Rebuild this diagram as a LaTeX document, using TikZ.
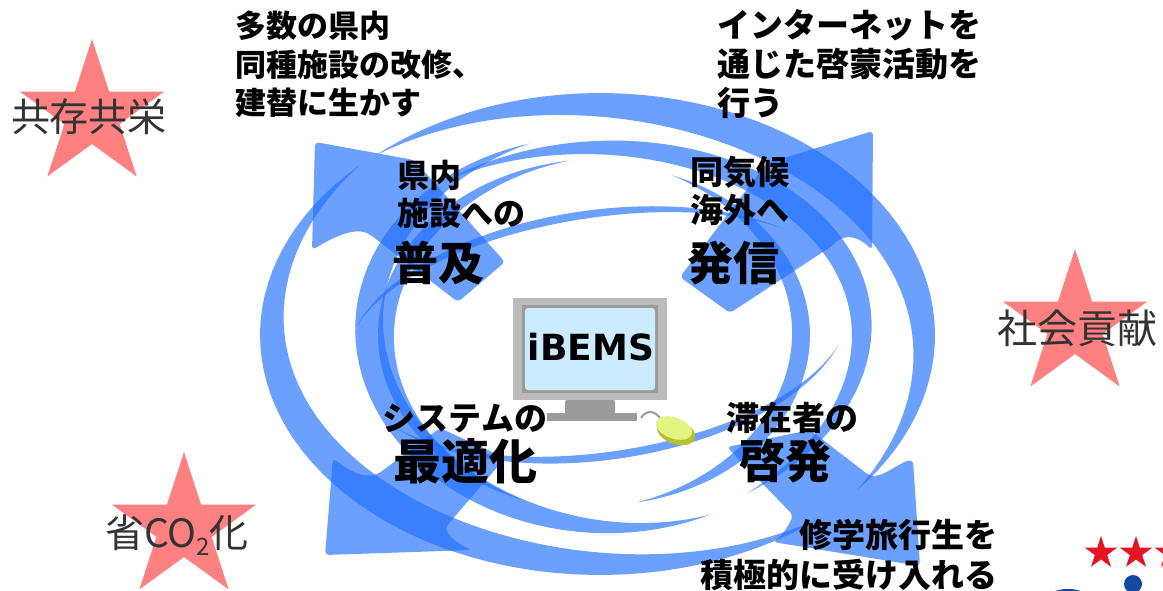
\documentclass[tikz,border=0pt]{standalone}
\usepackage{fontspec}
\newfontfamily\jp{Noto Sans CJK JP}
\newfontfamily\latin{DejaVu Sans}
\usetikzlibrary{positioning,shapes.geometric}

\definecolor{swirlblue}{RGB}{30,110,255}
\definecolor{starpink}{RGB}{255,128,128}
\definecolor{labelgray}{RGB}{51,51,51}
\definecolor{framegray}{RGB}{187,187,187}
\definecolor{rimgray}{RGB}{155,155,155}
\definecolor{screenblue}{RGB}{204,235,255}
\definecolor{mouseyellow}{RGB}{226,244,130}
\definecolor{mouserim}{RGB}{184,192,44}
\definecolor{logored}{RGB}{228,20,36}
\definecolor{logoblue}{RGB}{22,72,160}

% tapered ribbon on an ellipse: [rotation]{rx}{ry}{from}{to}{width}
\newcommand{\swoosh}[6][0]{%
  \fill[swirl, rotate=#1] plot[domain=#4:#5, samples=60, variable=\t]
      ({#2*cos(\t)}, {#3*sin(\t)})
    -- plot[domain=#5:#4, samples=60, variable=\t]
      ({(#2-#6*sin(180/(#5-#4)*(\t-#4)))*cos(\t)},
       {(#3-#6*sin(180/(#5-#4)*(\t-#4)))*sin(\t)})
    -- cycle;}

\begin{document}
\begin{tikzpicture}[x=1pt, y=-1pt,
	swirl/.style = { fill=swirlblue, fill opacity=0.65 },
	blockarrow/.style = { swirl, rounded corners=4pt },
	note/.style = { font=\jp\bfseries\fontsize{31}{38.5}\selectfont,
			inner sep=0, align=left, anchor=north west },
	lead/.style = { font=\jp\bfseries\fontsize{33}{38}\selectfont,
			inner sep=0, align=left },
	keyword/.style = { font=\jp\bfseries\fontsize{46}{50}\selectfont, inner sep=0 },
	bigstar/.style = { star, star points=5, star point ratio=2.618,
			minimum size=152pt, inner sep=0, fill=starpink },
	starword/.style = { font=\jp\fontsize{39}{42}\selectfont,
			text=labelgray, inner sep=0 }]

  \useasboundingbox (0,0) rectangle (1163,591);
  \fill[white] (0,0) rectangle (1163,591);

  % stars
  \node[name=kyozonstar, bigstar] at (92,115) {};
  \node[name=shakaistar, bigstar] at (1075,325) {};
  \node[name=shocostar, bigstar] at (184,528) {};

  % ribbons round the middle
  \begin{scope}[shift={(600,335)}]
    \swoosh{335}{242}{228}{400}{34}
    \swoosh{340}{240}{50}{225}{34}
    \swoosh[4]{272}{194}{238}{420}{24}
    \swoosh[-4]{245}{198}{60}{250}{30}
    \swoosh{210}{170}{290}{440}{18}
    \swoosh{222}{176}{110}{262}{16}
    \swoosh[8]{255}{125}{200}{320}{8}
    \swoosh[8]{250}{125}{20}{150}{8}
  \end{scope}

  % the four arrows
  \fill[blockarrow] (315,142) -- (414,160) -- (505,262) -- (458,302) -- (372,236)
    .. controls (355,226) and (332,238) .. (312,250) -- cycle;
  \fill[blockarrow] (873,131) -- (872,250) .. controls (860,238) and (846,232) .. (832,246)
    -- (730,313) -- (680,277) -- (767,163) -- cycle;
  \fill[blockarrow] (325,555) -- (333,458) .. controls (345,468) and (360,478) .. (378,474)
    -- (440,428) -- (505,458) -- (445,528) .. controls (452,540) and (462,546) .. (472,550)
    -- cycle;
  \fill[blockarrow] (920,566) -- (913,460) .. controls (900,462) and (885,476) .. (870,476)
    -- (810,430) -- (727,447) -- (793,515) .. controls (788,528) and (780,537) .. (773,542)
    -- cycle;

  % monitor and mouse
  \fill[framegray] (513,298) rectangle (667,400);
  \fill[rimgray] (522,305) rectangle (658,393);
  \fill[screenblue, rounded corners=3pt] (525,308) rectangle (655,390);
  \fill[rimgray, rounded corners=2pt] (565,400) rectangle (615,414);
  \fill[rimgray] (547,413) rectangle (637,421);
  \node[name=ibems, font=\latin\bfseries\fontsize{36}{40}\selectfont, inner sep=0]
    at (591,347) {iBEMS};
  \draw[rimgray, line width=2pt] (641,418) .. controls (646,410) and (654,410) .. (660,418);
  \fill[mouserim, rotate around={-20:(676,432)}] (676,432) ellipse [x radius=20pt, y radius=12pt];
  \fill[mouseyellow, rotate around={-20:(674,428)}] (674,428) ellipse [x radius=19pt, y radius=10.5pt];

  % texts
  \node[name=kenplan, note] at (235,11)
    {多数の県内\\同種施設の改修、\\建替に生かす};
  \node[name=netplan, note, font=\jp\bfseries\fontsize{33}{39}\selectfont] at (717,9)
    {インターネットを\\通じた啓蒙活動を\\行う};
  \node[name=ryokoplan, note, align=right, anchor=north east,
        font=\jp\bfseries\fontsize{33}{40}\selectfont] at (998,519)
    {修学旅行生を\\積極的に受け入れる};

  \node[name=kennai, lead, anchor=north west, font=\jp\bfseries\fontsize{32}{38}\selectfont]
    at (397,160) {県内\\施設への};
  \node[name=fukyu, keyword] at (438,263) {普及};
  \node[name=dokiko, lead, anchor=north west] at (690,156) {同気候\\海外へ};
  \node[name=hasshin, keyword] at (733,263) {発信};
  \node[name=system, lead] at (465,418) {システムの};
  \node[name=saiteki, keyword, font=\jp\bfseries\fontsize{48}{50}\selectfont,
        below=6pt of system] {最適化};
  \node[name=taizai, lead] at (792,418) {滞在者の};
  \node[name=keihatsu, keyword, below=5pt of taizai, xshift=-7pt] {啓発};

  \node[name=kyozon, starword] at (89,117) {共存共栄};
  \node[name=shakai, starword, font=\jp\fontsize{40}{42}\selectfont] at (1077,328) {社会貢献};
  \node[name=shoco, starword, font=\jp\fontsize{39}{42}\selectfont] at (177,535)
    {省CO\raisebox{-0.22em}{\fontsize{24}{24}\selectfont 2}化};

  % corner emblem
  \foreach \x in {1101,1136,1171}
    \node[star, star points=5, star point ratio=2.618, minimum size=34pt,
          inner sep=0, fill=logored] at (\x,553) {};
  \fill[logoblue] (1133,584) circle [radius=9pt];
  \fill[logoblue] (1068,600) ellipse [x radius=22pt, y radius=11pt];
\end{tikzpicture}
\end{document}
